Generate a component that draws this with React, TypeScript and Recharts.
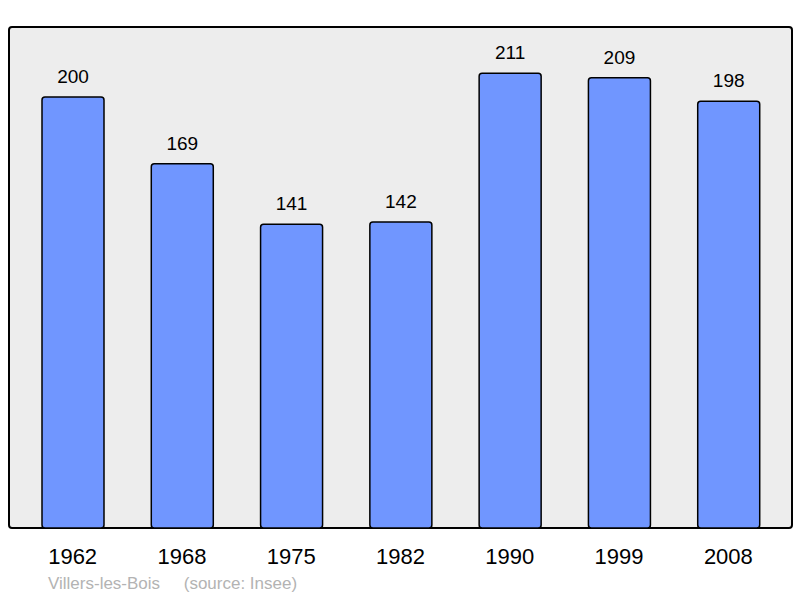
import { BarChart, Bar, XAxis, YAxis, LabelList } from 'recharts';

const years = ['1962', '1968', '1975', '1982', '1990', '1999', '2008'];
const population = [200, 169, 141, 142, 211, 209, 198];

const data = years.map((year, i) => ({ year, population: population[i] }));

const font = '"Liberation Sans", Arial, sans-serif';

export default function App() {
  return (
    <div style={{ position: 'relative', width: 800, height: 598, fontFamily: font }}>
      <style>{`body { margin: 0; }`}</style>
      {/* plot frame */}
      <div
        style={{
          position: 'absolute',
          left: 8,
          top: 26,
          width: 781,
          height: 499,
          background: '#ededed',
          border: '2px solid #000',
          borderRadius: 4,
        }}
      />
      <BarChart
        width={800}
        height={598}
        data={data}
        margin={{ top: 27, right: 9, bottom: 40, left: 9 }}
        style={{ position: 'absolute', left: 0, top: 0 }}
      >
        <XAxis
          dataKey="year"
          axisLine={false}
          tickLine={false}
          height={30}
          padding={{ left: 9, right: 8 }}
          tick={{ fill: '#000', fontSize: 22, fontFamily: font }}
          dy={12}
        />
        <YAxis hide domain={[0, 232.5]} />
        <Bar dataKey="population" fill="#7096ff" stroke="#000" strokeWidth={1.5} barSize={62} radius={3} isAnimationActive={false}>
          <LabelList dataKey="population" position="top" offset={14} fill="#000" fontSize={19} fontFamily={font} />
        </Bar>
      </BarChart>
      <div style={{ position: 'absolute', left: 48, top: 574, fontSize: 17, color: '#b3b3b3', whiteSpace: 'pre' }}>
        {'Villers-les-Bois     (source: Insee)'}
      </div>
    </div>
  );
}
